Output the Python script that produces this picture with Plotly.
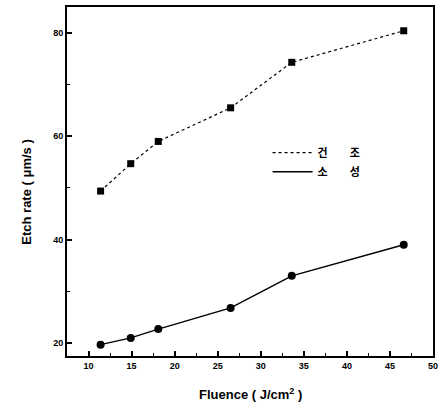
import plotly.graph_objects as go

fluence = [11.4, 14.9, 18.1, 26.5, 33.6, 46.6]
dry_rate = [49.4, 54.7, 59.0, 65.5, 74.3, 80.4]
fired_rate = [19.7, 21.0, 22.7, 26.8, 33.0, 39.0]
series_names = ["건\u2003\u2003조", "소\u2003\u2003성"]

x_ticks = [10, 15, 20, 25, 30, 35, 40, 45, 50]
y_ticks = [20, 40, 60, 80]

fig = go.Figure()
# lines (legend entries)
fig.add_trace(go.Scatter(x=fluence, y=dry_rate, mode="lines", name=series_names[0],
                         line=dict(color="black", width=1.2, dash="dot")))
fig.add_trace(go.Scatter(x=fluence, y=fired_rate, mode="lines", name=series_names[1],
                         line=dict(color="black", width=1.5)))
# markers
fig.add_trace(go.Scatter(x=fluence, y=dry_rate, mode="markers", showlegend=False,
                         marker=dict(symbol="square", size=7, color="black")))
fig.add_trace(go.Scatter(x=fluence, y=fired_rate, mode="markers", showlegend=False,
                         marker=dict(symbol="circle", size=8, color="black")))

tfont = dict(family="Liberation Sans, Arial", size=9, color="black", weight="bold")
fig.update_layout(
    width=440, height=404,
    margin=dict(l=67, r=7, t=7, b=48, autoexpand=False),
    paper_bgcolor="white", plot_bgcolor="white",
    font=dict(family="Liberation Sans, Arial", color="black"),
    legend=dict(x=0.548, y=0.624, xanchor="left", yanchor="top",
                bgcolor="rgba(0,0,0,0)", borderwidth=0,
                font=dict(family="Noto Sans CJK KR", size=11, color="black", weight="bold"),
                tracegroupgap=0, itemwidth=40),
    xaxis=dict(range=[7.5, 50], tickvals=x_ticks, ticks="inside", ticklen=5,
               tickwidth=1.5, tickcolor="black", automargin=False,
               minor=dict(dtick=2.5, tick0=7.5, ticks="inside", ticklen=3, tickcolor="black", tickwidth=1),
               showline=True, linecolor="black", linewidth=2, mirror=True,
               showgrid=False, zeroline=False, tickfont=tfont),
    yaxis=dict(range=[17.5, 85], tickvals=y_ticks, ticks="inside", ticklen=5,
               tickwidth=1.5, tickcolor="black", automargin=False,
               minor=dict(dtick=10, tick0=0, ticks="inside", ticklen=3, tickcolor="black", tickwidth=1),
               showline=True, linecolor="black", linewidth=2, mirror=True,
               showgrid=False, zeroline=False, tickfont=tfont),
)

fig.add_annotation(text="Fluence ( J/cm<sup>2</sup> )", x=0.5, y=-0.08, xref="paper", yref="paper",
                   xanchor="center", yanchor="top", showarrow=False,
                   font=dict(family="Liberation Sans, Arial", size=13, color="black", weight="bold"))
fig.add_annotation(text="Etch rate ( μm/s )", x=-0.11, y=0.47, xref="paper", yref="paper",
                   xanchor="center", yanchor="middle", textangle=-90, showarrow=False,
                   font=dict(family="Liberation Sans, Arial", size=13, color="black", weight="bold"))

fig.write_html("out.html", config={"displayModeBar": False},
               post_script="document.body.style.margin='0';")
